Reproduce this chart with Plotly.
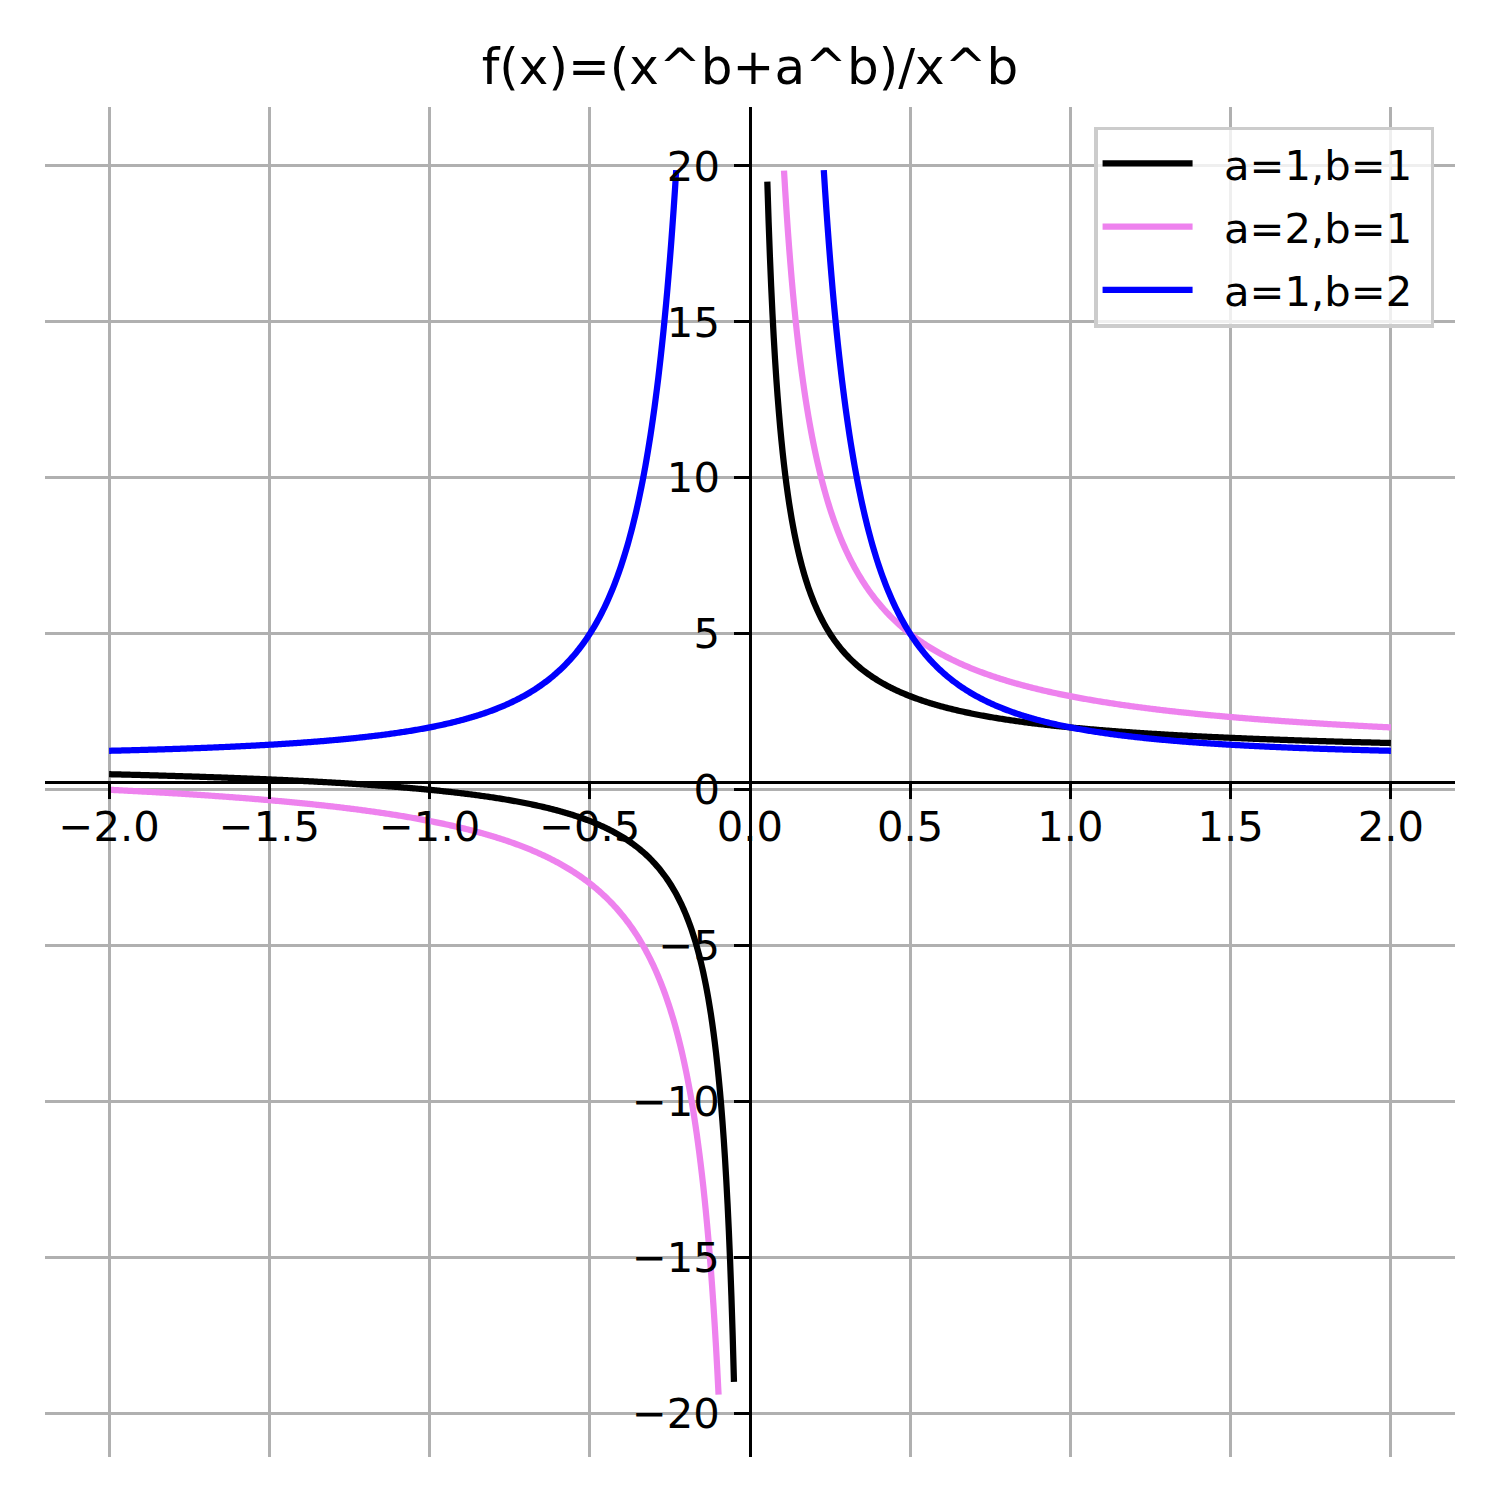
import numpy as np
import plotly.graph_objects as go

# Curves of the titled function f(x) = (x^b + a^b) / x^b, sampled like the source
x_start, x_stop, n_points = -2.0, 2.0, 1000
y_clip = 20.0
series_a = [1, 2, 1]
series_b = [1, 1, 2]
series_names = ["a=1,b=1", "a=2,b=1", "a=1,b=2"]
series_colors = ["#000000", "#EE82EE", "#0000FF"]

x_ticks = [-2.0, -1.5, -1.0, -0.5, 0.0, 0.5, 1.0, 1.5, 2.0]
x_tick_labels = ["\u22122.0", "\u22121.5", "\u22121.0", "\u22120.5", "0.0", "0.5", "1.0", "1.5", "2.0"]
y_ticks = [-20, -15, -10, -5, 0, 5, 10, 15, 20]
y_tick_labels = ["\u221220", "\u221215", "\u221210", "\u22125", "0", "5", "10", "15", "20"]
title_text = "f(x)=(x^b+a^b)/x^b"

x = np.linspace(x_start, x_stop, n_points)
fig = go.Figure()
for a, b, name, color in zip(series_a, series_b, series_names, series_colors):
    y = (x ** b + float(a) ** b) / x ** b
    y = np.where(np.abs(y) <= y_clip, y, np.nan)
    fig.add_trace(go.Scatter(
        x=x, y=y, mode="lines",
        name="\u00a0\u00a0" + name + "\u00a0", legendgroup=name,
        line=dict(color=color, width=6.25, simplify=False), connectgaps=False))

font = dict(family="DejaVu Sans", color="#000000", size=41.7)
axis_common = dict(
    anchor="free", position=0.5, showline=True, linecolor="#000000", linewidth=3.3,
    ticks="outside", ticklen=14.6, tickwidth=3.3, tickcolor="#000000",
    showgrid=True, gridcolor="#b0b0b0", gridwidth=3.3, zeroline=False,
    tickfont=font, automargin=False,
)
fig.update_layout(
    width=1500, height=1500,
    margin=dict(l=45, r=45, t=107, b=43),
    paper_bgcolor="#ffffff", plot_bgcolor="#ffffff",
    font=font,
    title=dict(text=title_text, x=0.5, xanchor="center", xref="paper",
               y=1 - 66 / 1500, yref="container", yanchor="middle",
               font=dict(family="DejaVu Sans", size=50, color="#000000")),
    xaxis=dict(range=[-2.2, 2.2], tickvals=x_ticks, ticktext=x_tick_labels,
               ticklabelstandoff=-8, **axis_common),
    yaxis=dict(range=[-21.39, 21.89], tickvals=y_ticks, ticktext=y_tick_labels,
               ticklabelstandoff=6, **axis_common),
    legend=dict(x=0.9853, xanchor="right", y=0.9855, yanchor="top",
                bgcolor="rgba(255,255,255,0.8)", bordercolor="#cccccc", borderwidth=3.3,
                font=font, itemwidth=90, tracegroupgap=6, traceorder="grouped"),
    showlegend=True,
)
fig.write_html("out.html", config={"displayModeBar": False},
               post_script="document.body.style.margin='0';")
